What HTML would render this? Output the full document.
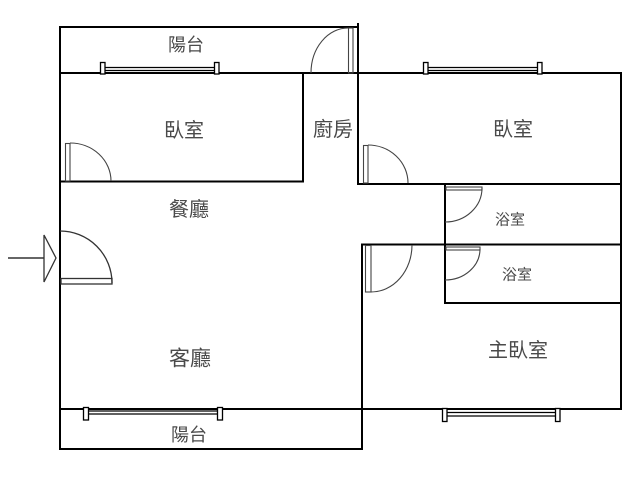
<!DOCTYPE html>
<html><head><meta charset="utf-8"><style>
html,body{margin:0;padding:0;background:#fff;}
svg{display:block;}
text{font-family:"Liberation Sans","Noto Sans CJK TC",sans-serif;fill:#4a4a4a;text-anchor:middle;dominant-baseline:central;}
</style></head><body>
<svg width="640" height="480" viewBox="0 0 640 480" xmlns="http://www.w3.org/2000/svg">
<g stroke="#000" stroke-width="2" fill="none" stroke-linecap="square">
<line x1="60" y1="27" x2="60" y2="449"/>
<line x1="60" y1="27" x2="358" y2="27"/>
<line x1="358" y1="24" x2="358" y2="184"/>
<line x1="60" y1="73" x2="621" y2="73"/>
<line x1="303" y1="73" x2="303" y2="181.5"/>
<line x1="60" y1="181.5" x2="303" y2="181.5"/>
<line x1="358" y1="184" x2="621" y2="184"/>
<line x1="621" y1="73" x2="621" y2="409"/>
<line x1="445" y1="184" x2="445" y2="303"/>
<line x1="362" y1="244.5" x2="621" y2="244.5"/>
<line x1="445" y1="303" x2="621" y2="303"/>
<line x1="362" y1="244.5" x2="362" y2="449"/>
<line x1="60" y1="409" x2="621" y2="409"/>
<line x1="60" y1="449" x2="362" y2="449"/>
</g>
<!-- windows -->
<g stroke="#000" stroke-width="1.3" fill="#fff">
<line x1="104" y1="67.5" x2="215" y2="67.5"/><line x1="104" y1="70.5" x2="215" y2="70.5"/>
<rect x="100.5" y="62.5" width="4.5" height="11.5"/><rect x="214.5" y="62.5" width="4.5" height="11.5"/>
<line x1="428" y1="67.5" x2="538" y2="67.5"/><line x1="428" y1="70.5" x2="538" y2="70.5"/>
<rect x="423.5" y="62.5" width="4.5" height="11.5"/><rect x="537.5" y="62.5" width="4.5" height="11.5"/>
<line x1="88" y1="411" x2="218" y2="411"/><line x1="88" y1="414" x2="218" y2="414"/>
<rect x="83.5" y="407.5" width="5" height="12.5"/><rect x="217.5" y="407.5" width="5" height="12.5"/>
<line x1="446" y1="412.5" x2="556" y2="412.5"/><line x1="446" y1="416" x2="556" y2="416"/>
<rect x="442.5" y="408.5" width="4.5" height="13"/><rect x="555.5" y="408.5" width="4.5" height="13"/>
</g>
<!-- doors -->
<g stroke="#444" stroke-width="1.1" fill="none">
<path d="M70,143 A41,38 0 0,1 111,181"/>
<rect x="65.5" y="143.5" width="4.5" height="37.5"/>
<path d="M368,145 A40,38 0 0,1 408,183"/>
<rect x="363.5" y="145.5" width="4.5" height="37.5"/>
<path d="M482,188 A37,34 0 0,1 445,222"/>
<rect x="446" y="187" width="36" height="3"/>
<path d="M480,249 A35,31 0 0,1 445,280"/>
<rect x="446" y="247" width="34" height="3"/>
<path d="M412,245 A41,47 0 0,1 371,292"/>
<rect x="365.5" y="245.5" width="5.5" height="46.5"/>
<path d="M348,28 A37,45 0 0,0 311,73"/>
<rect x="348.5" y="28" width="4.5" height="45"/>
</g>
<g stroke="#333" stroke-width="1.3" fill="none">
<path d="M60,231 A52,52 0 0,1 112,283"/>
<rect x="61" y="278.5" width="51" height="5.5"/>
<line x1="8" y1="258" x2="44" y2="258" stroke-width="1.6"/>
<path d="M44,235 L56,258 L44,282 Z" fill="#fff"/>
</g>
<text x="186" y="45" font-size="18">陽台</text>
<text x="184" y="131" font-size="20">臥室</text>
<text x="333" y="130" font-size="20">廚房</text>
<text x="513" y="130" font-size="20">臥室</text>
<text x="189" y="210" font-size="20">餐廳</text>
<text x="510" y="220" font-size="15">浴室</text>
<text x="517" y="275" font-size="15">浴室</text>
<text x="190" y="359" font-size="21">客廳</text>
<text x="189" y="435" font-size="18">陽台</text>
<text x="518" y="351" font-size="20">主臥室</text>
</svg>
</body></html>
